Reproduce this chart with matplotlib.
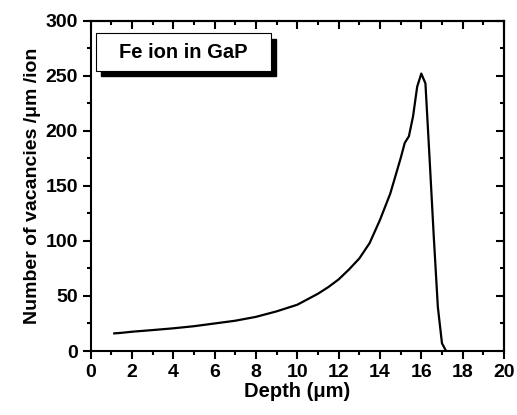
import matplotlib
matplotlib.use("Agg")
import matplotlib.pyplot as plt
from matplotlib.patches import Rectangle
from matplotlib.ticker import MultipleLocator

# Vacancy profile
depth = [1.15, 1.5, 2, 3, 4, 5, 6, 7, 8, 9, 10, 10.5, 11, 11.5, 12, 12.5,
         13, 13.5, 14, 14.5, 15, 15.2, 15.4, 15.6, 15.8, 16.0, 16.2, 16.4,
         16.6, 16.8, 17.0, 17.2]
vacancies = [16, 16.5, 17.5, 19, 20.6, 22.5, 25, 27.5, 31, 36, 42, 47, 52,
             58, 65, 74, 84, 98, 119, 143, 175, 189, 195, 213, 240, 252,
             243, 175, 105, 40, 7, 0]
x_ticks = [0, 2, 4, 6, 8, 10, 12, 14, 16, 18, 20]
y_ticks = [0, 50, 100, 150, 200, 250, 300]
label = "Fe ion in GaP"

plt.rcParams["font.family"] = ["Liberation Sans", "DejaVu Sans"]
plt.rcParams["font.weight"] = "bold"

fig = plt.figure(figsize=(5.17, 4.15), dpi=100)
ax = fig.add_axes([90.5 / 517, (415 - 351) / 415, 413.5 / 517, 330.3 / 415])

ax.plot(depth, vacancies, color="black", lw=1.6)

ax.set_xlim(0, 20)
ax.set_ylim(0, 300)
ax.set_xticks(x_ticks)
ax.set_xticklabels([str(t) for t in x_ticks], fontweight="bold", fontsize=14)
ax.set_yticks(y_ticks)
ax.set_yticklabels([str(t) for t in y_ticks], fontweight="bold", fontsize=14)
ax.xaxis.set_minor_locator(MultipleLocator(1))
ax.yaxis.set_minor_locator(MultipleLocator(25))

for s in ax.spines.values():
    s.set_linewidth(1.5)
ax.tick_params(which="both", width=1.5, direction="out", pad=3)
ax.tick_params(which="major", length=6)
ax.tick_params(which="minor", length=3)

# top and right ticks point inward, no labels
top = ax.secondary_xaxis("top")
top.xaxis.set_major_locator(MultipleLocator(2))
top.xaxis.set_minor_locator(MultipleLocator(1))
top.tick_params(which="both", direction="in", width=1.5, labeltop=False)
top.tick_params(which="major", length=6)
top.tick_params(which="minor", length=3)
top.spines["top"].set_linewidth(1.5)
right = ax.secondary_yaxis("right")
right.yaxis.set_major_locator(MultipleLocator(50))
right.yaxis.set_minor_locator(MultipleLocator(25))
right.tick_params(which="both", direction="in", width=1.5, labelright=False)
right.tick_params(which="major", length=6)
right.tick_params(which="minor", length=3)
right.spines["right"].set_linewidth(1.5)

ax.set_xlabel("Depth (μm)", fontsize=14.5, fontweight="bold", labelpad=1)
ax.set_ylabel("Number of vacancies /μm /ion", fontsize=14,
              fontweight="bold", labelpad=3)

# label box with drop shadow
x0, y0, w, h = 0.013, 0.848, 0.423, 0.114
ax.add_patch(Rectangle((x0 + 0.012, y0 - 0.016), w, h, transform=ax.transAxes,
                       facecolor="black", edgecolor="black", zorder=3))
ax.add_patch(Rectangle((x0, y0), w, h, transform=ax.transAxes,
                       facecolor="white", edgecolor="black", lw=0.8, zorder=4))
ax.text(x0 + w / 2, y0 + h / 2, label, transform=ax.transAxes, ha="center",
        va="center", fontsize=14.5, fontweight="bold", zorder=5)

fig.savefig("out.png", dpi=100)
